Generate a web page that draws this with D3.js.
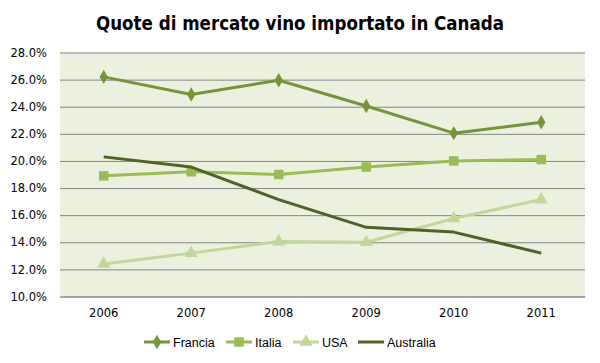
<!DOCTYPE html>
<html>
<head>
<meta charset="utf-8">
<script src="https://cdn.jsdelivr.net/npm/d3@7"></script>
<style>
  body { margin: 0; background: #fff; }
</style>
</head>
<body>
<svg id="chart"></svg>
<script>
const years = ["2006", "2007", "2008", "2009", "2010", "2011"];
const francia = [26.2, 24.9, 25.95, 24.05, 22.05, 22.85];
const italia = [18.9, 19.2, 19.0, 19.55, 20.0, 20.1];
const usa = [12.4, 13.2, 14.05, 14.0, 15.75, 17.15];
const australia = [20.3, 19.55, 17.15, 15.1, 14.75, 13.2];
const yTicks = [10, 12, 14, 16, 18, 20, 22, 24, 26, 28];

const series = [
  { name: "Francia", values: francia, color: "#77933c", marker: "diamond" },
  { name: "Italia", values: italia, color: "#9bbb59", marker: "square" },
  { name: "USA", values: usa, color: "#c3d69b", marker: "triangle" },
  { name: "Australia", values: australia, color: "#4f6228", marker: null }
];

const width = 600, height = 363;
const plot = { left: 60, right: 585, top: 52.5, bottom: 296.5 };

const svg = d3.select("#chart").attr("width", width).attr("height", height);

const x = d3.scaleBand().domain(years).range([plot.left, plot.right]);
const y = d3.scaleLinear().domain([10, 28]).range([plot.bottom, plot.top]);
const cx = d => x(d) + x.bandwidth() / 2;

// title
svg.append("text")
  .attr("x", 300)
  .attr("y", 30)
  .attr("text-anchor", "middle")
  .attr("font-family", "'Liberation Sans Narrow', 'DejaVu Sans Condensed', 'Liberation Sans', sans-serif")
  .attr("font-weight", "bold")
  .attr("font-size", "20px")
  .attr("textLength", 408)
  .attr("lengthAdjust", "spacingAndGlyphs")
  .attr("fill", "#000")
  .text("Quote di mercato vino importato in Canada");

// plot background
svg.append("rect")
  .attr("x", plot.left)
  .attr("y", plot.top)
  .attr("width", plot.right - plot.left)
  .attr("height", plot.bottom - plot.top)
  .attr("fill", "#ebf1de");

// gridlines + y labels
const yAxis = d3.axisLeft(y)
  .tickValues(yTicks)
  .tickSize(-(plot.right - plot.left))
  .tickPadding(13)
  .tickFormat(d => d.toFixed(1) + "%");

const gy = svg.append("g")
  .attr("transform", `translate(${plot.left},0)`)
  .call(yAxis);
gy.select(".domain").remove();
gy.selectAll(".tick line").attr("stroke", "#868686").attr("stroke-width", 1);
gy.selectAll(".tick text")
  .attr("font-family", "'DejaVu Sans', Verdana, sans-serif")
  .attr("font-size", "11.5px")
  .attr("fill", "#000");

// x labels
const xAxis = d3.axisBottom(x).tickSize(0).tickPadding(12);
const gx = svg.append("g")
  .attr("transform", `translate(0,${plot.bottom})`)
  .call(xAxis);
gx.select(".domain").attr("stroke", "#868686");
gx.selectAll(".tick text")
  .attr("font-family", "'DejaVu Sans', Verdana, sans-serif")
  .attr("font-size", "11.5px")
  .attr("fill", "#000");

// lines
const line = d3.line()
  .x((d, i) => cx(years[i]))
  .y(d => y(d));

const symbolFor = {
  diamond: d3.symbol().type(d3.symbolDiamond).size(60),
  square: d3.symbol().type(d3.symbolSquare).size(90),
  triangle: d3.symbol().type(d3.symbolTriangle).size(75)
};

series.forEach(s => {
  svg.append("path")
    .datum(s.values)
    .attr("fill", "none")
    .attr("stroke", s.color)
    .attr("stroke-width", 3)
    .attr("stroke-linejoin", "round")
    .attr("d", line);

  if (s.marker) {
    svg.append("g")
      .selectAll("path")
      .data(s.values)
      .enter()
      .append("path")
      .attr("d", symbolFor[s.marker])
      .attr("transform", (d, i) => `translate(${cx(years[i])},${y(d)})`)
      .attr("fill", s.color);
  }
});

// legend
const legendX = [144, 226, 293, 358];
const legend = svg.append("g").attr("transform", "translate(0,342)");
series.forEach((s, i) => {
  const g = legend.append("g").attr("transform", `translate(${legendX[i]},0)`);
  g.append("line")
    .attr("x1", 0).attr("x2", 26)
    .attr("y1", 0).attr("y2", 0)
    .attr("stroke", s.color)
    .attr("stroke-width", 3);
  if (s.marker) {
    g.append("path")
      .attr("d", symbolFor[s.marker])
      .attr("transform", "translate(13,0)")
      .attr("fill", s.color);
  }
  g.append("text")
    .attr("x", 29)
    .attr("y", 4.5)
    .attr("font-family", "'Liberation Sans', Arial, sans-serif")
    .attr("font-size", "12.5px")
    .attr("fill", "#000")
    .text(s.name);
});
</script>
</body>
</html>
